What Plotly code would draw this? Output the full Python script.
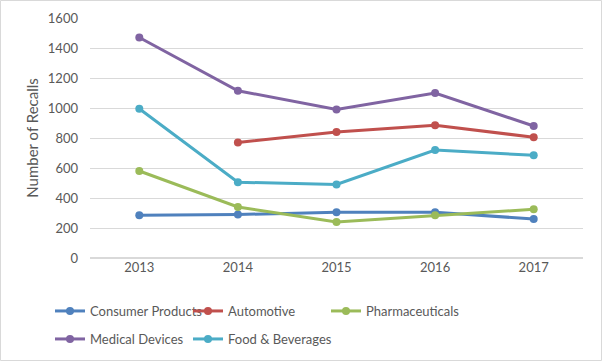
import plotly.graph_objects as go

years = ["2013", "2014", "2015", "2016", "2017"]
consumer_products = [285, 290, 305, 305, 260]
automotive = [None, 770, 840, 885, 805]
pharmaceuticals = [580, 340, 240, 285, 325]
medical_devices = [1470, 1115, 990, 1100, 880]
food_beverages = [995, 505, 490, 720, 685]

series = [
    ("Consumer Products", consumer_products, "#4F81BD"),
    ("Automotive", automotive, "#C0504D"),
    ("Pharmaceuticals", pharmaceuticals, "#9BBB59"),
    ("Medical Devices", medical_devices, "#8064A2"),
    ("Food & Beverages", food_beverages, "#4BACC6"),
]
legend_ids = ["legend", "legend2", "legend3", "legend4", "legend5"]
# legend entry pixel anchors (line start x, row center y)
legend_pos = [(57, 311), (195, 311), (333, 311), (57, 339), (195, 339)]

FONT = "Lato, Calibri, Carlito, sans-serif"
TXT = "#595959"

fig = go.Figure()
for (name, vals, color), lg in zip(series, legend_ids):
    fig.add_trace(go.Scatter(
        x=years, y=vals, name=name, mode="lines+markers",
        line=dict(color=color, width=3),
        marker=dict(color=color, size=8),
        legend=lg,
    ))

W, H = 602, 361
L, R, T, B = 90, 19, 18, 103
pw, ph = W - L - R, H - T - B

def px_x(p):
    return (p - L) / pw

def px_y(p):
    return (H - B - p) / ph

legends = {}
for lg, (lx, ly) in zip(legend_ids, legend_pos):
    legends[lg] = dict(
        orientation="h", xanchor="left", yanchor="middle",
        x=px_x(lx - 7), y=px_y(ly),
        font=dict(family=FONT, size=13, color=TXT),
        bgcolor="rgba(0,0,0,0)",
    )

fig.update_layout(
    width=W, height=H,
    margin=dict(l=L, r=R, t=T, b=B, autoexpand=False),
    paper_bgcolor="white", plot_bgcolor="white",
    font=dict(family=FONT, size=13, color=TXT),
    showlegend=True,
    xaxis=dict(
        type="category", range=[-0.5, 4.5], showgrid=False,
        showline=False, zeroline=False, ticks="",
        tickfont=dict(family=FONT, size=13, color=TXT),
    ),
    yaxis=dict(
        range=[0, 1600], dtick=200, showgrid=True, gridcolor="#D9D9D9",
        gridwidth=1, zeroline=True, zerolinecolor="#D9D9D9", showline=False,
        ticks="", ticklabelstandoff=11,
        tickfont=dict(family=FONT, size=13, color=TXT),
        title=dict(text="Number of Recalls", font=dict(family=FONT, size=15, color=TXT), standoff=5),
    ),
    shapes=[dict(
        type="rect", xref="paper", yref="paper",
        x0=px_x(0.5), x1=px_x(W - 0.5), y0=px_y(H - 0.5), y1=px_y(0.5),
        line=dict(color="#D9D9D9", width=1), layer="below",
    )],
    **legends,
)

fig.write_html(
    "out.html",
    config={"displayModeBar": False},
    post_script="document.body.style.margin='0';document.body.style.overflow='hidden';",
)
